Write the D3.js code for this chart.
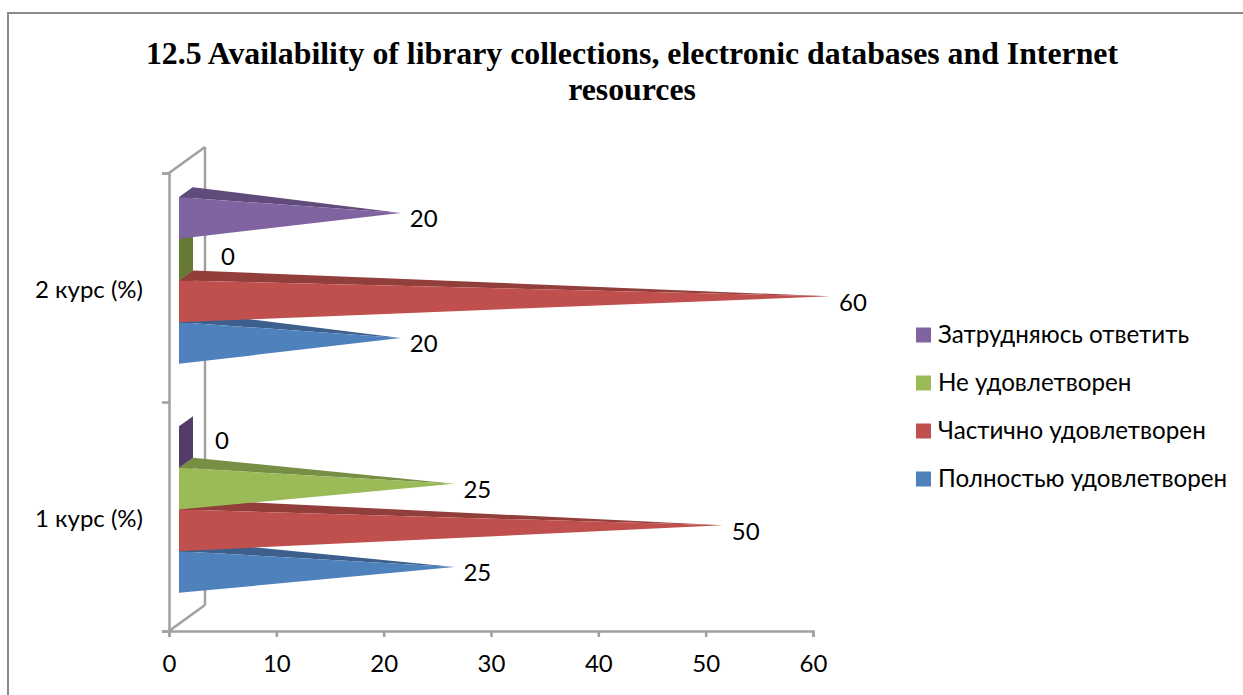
<!DOCTYPE html>
<html>
<head>
<meta charset="utf-8">
<script src="https://cdn.jsdelivr.net/npm/d3@7"></script>
<style>
  html, body { margin: 0; padding: 0; background: #fff; overflow: hidden; }
  text { font-family: Lato, "Open Sans", sans-serif; fill: #000; }
</style>
</head>
<body>
<svg id="chart" width="1243" height="695"></svg>
<script>
const titleLines = ['12.5 Availability of library collections, electronic databases and Internet', 'resources'];
const categories = ['1 курс (%)', '2 курс (%)'];
const seriesNames = ['Полностью удовлетворен', 'Частично удовлетворен', 'Не удовлетворен', 'Затрудняюсь ответить'];
const seriesValues = [
  [25, 20],
  [50, 60],
  [25, 0],
  [0, 20]
];
const xTicks = [0, 10, 20, 30, 40, 50, 60];

const frontColors = ['#4f81bd', '#c0504d', '#9bbb59', '#8064a2'];
const topColors = ['#3c5f8d', '#923e3b', '#768f44', '#614b7b'];
const baseColors = ['#2f4b71', '#753230', '#667a35', '#553c68'];
const axisColor = '#a0a0a0';

const dimensions = { width: 1243, height: 695 };
const plot = { left: 169, right: 813, top: 173, bottom: 631 };
const wall = { dx: 36, dy: -26 };     // back wall offset
const floor = { dx: 10, dy: -7 };     // bar front offset from the axes
const depth = { dx: 14, dy: -10 };    // bar depth

const svg = d3.select('#chart');

// frame runs off the right and bottom of the picture
svg.append('rect')
  .attr('x', 8).attr('y', 13)
  .attr('width', dimensions.width).attr('height', dimensions.height)
  .attr('fill', 'none').attr('stroke', '#8a8a8a').attr('stroke-width', 2);

// title
svg.append('g').selectAll('text')
  .data(titleLines)
  .join('text')
  .attr('x', 632)
  .attr('y', (d, i) => 64 + i * 36)
  .attr('text-anchor', 'middle')
  .style('font-family', '"Liberation Serif", serif')
  .style('font-weight', 'bold')
  .style('font-size', '31.8px')
  .text(d => d);

// x scale
const x = d3.scaleLinear()
  .domain([0, 60])
  .range([plot.left, plot.right]);

// category scale, first category at the bottom
const y = d3.scaleBand()
  .domain(categories)
  .range([plot.bottom, plot.top]);

// series position inside a category, first series at the bottom
const ySeries = d3.scaleBand()
  .domain(d3.range(seriesNames.length))
  .range([y.bandwidth() * 0.864, y.bandwidth() * 0.136]);

// back wall
const corners = [plot.top, plot.bottom];
svg.append('g').selectAll('line')
  .data(corners)
  .join('line')
  .attr('x1', plot.left)
  .attr('y1', d => d)
  .attr('x2', plot.left + wall.dx)
  .attr('y2', d => d + wall.dy)
  .attr('stroke', axisColor).attr('stroke-width', 2.5);
svg.append('line')
  .attr('x1', plot.left + wall.dx).attr('x2', plot.left + wall.dx)
  .attr('y1', plot.top + wall.dy).attr('y2', plot.bottom + wall.dy)
  .attr('stroke', axisColor).attr('stroke-width', 2.5);

// x axis
const xAxis = svg.append('g')
  .attr('transform', `translate(0,${plot.bottom})`)
  .call(d3.axisBottom(x).tickValues(xTicks).tickSize(6).tickPadding(18));

// category boundary ticks
const yEdges = d3.scaleLinear().domain([0, categories.length]).range([plot.bottom, plot.top]);
const yEdgeAxis = svg.append('g')
  .attr('transform', `translate(${plot.left},0)`)
  .call(d3.axisLeft(yEdges).ticks(categories.length).tickSize(7).tickFormat(''));

// category labels
const yAxis = svg.append('g')
  .attr('transform', `translate(${plot.left},3)`)
  .call(d3.axisLeft(y).tickSize(0).tickPadding(26));
yAxis.select('.domain').remove();

[xAxis, yEdgeAxis].forEach(g => {
  g.selectAll('.domain').attr('stroke', axisColor).attr('stroke-width', 2.5);
  g.selectAll('.tick line').attr('stroke', axisColor).attr('stroke-width', 2.5);
});
[xAxis, yAxis].forEach(g => {
  g.selectAll('text').style('font-family', 'Lato, "Open Sans", sans-serif').style('font-size', '24px').attr('fill', '#000');
});

// one pyramid per series and category, lower series drawn first
const bars = [];
seriesNames.forEach((name, s) => {
  categories.forEach((cat, c) => {
    bars.push({ s, c, value: seriesValues[s][c] });
  });
});
bars.sort((a, b) => a.c - b.c || a.s - b.s);

const barGeom = d => {
  const x0 = x(0) + floor.dx;
  const top = y(categories[d.c]) + ySeries(d.s) + floor.dy;
  const bottom = top + ySeries.bandwidth();
  const tipX = x(d.value) + floor.dx + depth.dx / 2;
  const tipY = (top + bottom) / 2 + depth.dy / 2;
  return { x0, top, bottom, tipX, tipY };
};
const pts = a => a.map(p => p.join(',')).join(' ');

const barG = svg.append('g').selectAll('g')
  .data(bars)
  .join('g');

// base of the pyramid, the only face left when the value is 0
barG.append('polygon')
  .attr('fill', d => baseColors[d.s])
  .attr('points', d => {
    const g = barGeom(d);
    return pts([[g.x0, g.top], [g.x0 + depth.dx, g.top + depth.dy], [g.x0 + depth.dx, g.bottom + depth.dy], [g.x0, g.bottom]]);
  });

const filled = barG.filter(d => d.value > 0);
filled.append('polygon')
  .attr('fill', d => topColors[d.s])
  .attr('points', d => {
    const g = barGeom(d);
    return pts([[g.x0, g.top], [g.x0 + depth.dx, g.top + depth.dy], [g.tipX, g.tipY]]);
  });
filled.append('polygon')
  .attr('fill', d => frontColors[d.s])
  .attr('points', d => {
    const g = barGeom(d);
    return pts([[g.x0, g.top], [g.tipX, g.tipY], [g.x0, g.bottom]]);
  });

// data labels, the zero ones sit further out
const zeroLabelShift = [{ dx: 36, dy: -1 }, { dx: 42, dy: 2 }];
svg.append('g').selectAll('text')
  .data(bars)
  .join('text')
  .attr('x', d => barGeom(d).tipX + (d.value === 0 ? zeroLabelShift[d.c].dx : 23))
  .attr('y', d => barGeom(d).tipY + (d.value === 0 ? zeroLabelShift[d.c].dy : 6))
  .attr('dy', '0.35em')
  .attr('text-anchor', 'middle')
  .style('font-size', '24px')
  .text(d => d.value);

// legend, reversed like the bars
const legendY = d3.scalePoint()
  .domain(d3.range(seriesNames.length).reverse())
  .range([335, 479]);
const legend = svg.append('g').selectAll('g')
  .data(seriesNames)
  .join('g')
  .attr('transform', (d, i) => `translate(916,${legendY(i)})`);
legend.append('rect')
  .attr('y', -7.5).attr('width', 15).attr('height', 15)
  .attr('fill', (d, i) => frontColors[i]);
legend.append('text')
  .attr('x', 22)
  .attr('dy', '0.35em')
  .style('font-size', '24.2px')
  .text(d => d);
</script>
</body>
</html>
